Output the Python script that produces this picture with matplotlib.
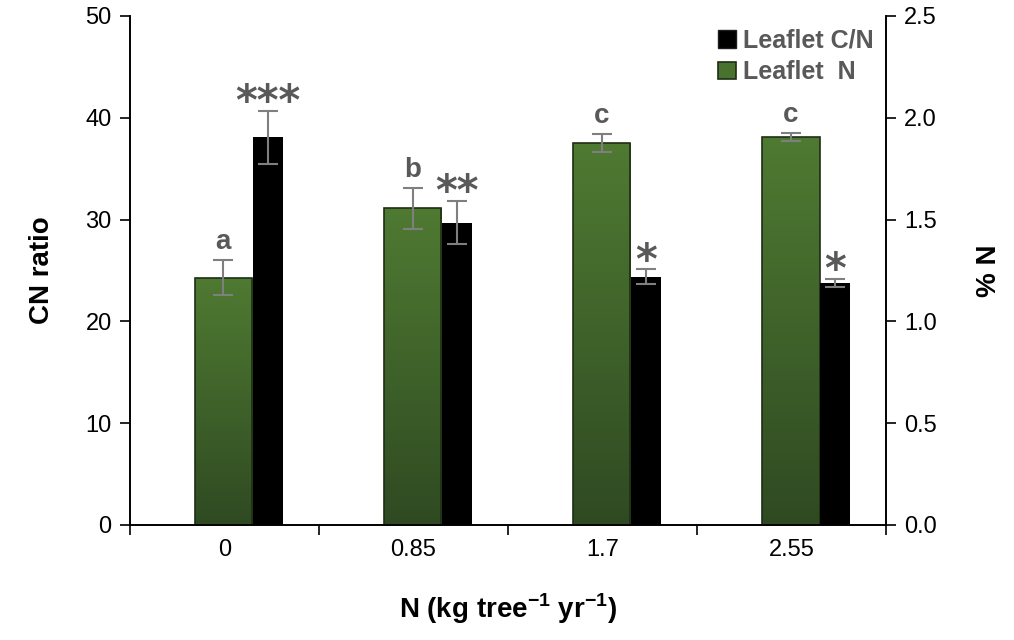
import matplotlib.pyplot as plt
import numpy as np
from matplotlib.colors import LinearSegmentedColormap

# data
doses = ['0', '0.85', '1.7', '2.55']
cn_ratio = [38.1, 29.7, 24.4, 23.8]
cn_err = [2.6, 2.1, 0.7, 0.4]
pct_n = [1.215, 1.555, 1.875, 1.905]
pct_n_err = [0.085, 0.10, 0.045, 0.018]
letters = ['a', 'b', 'c', 'c']
stars = ['***', '**', '*', '*']

plt.rcParams['font.family'] = ['Liberation Sans', 'DejaVu Sans']
plt.rcParams['mathtext.fontset'] = 'custom'
plt.rcParams['mathtext.rm'] = 'Liberation Sans:bold'
plt.rcParams['mathtext.bf'] = 'Liberation Sans:bold'
gray = '#595959'
ebar_col = '#7f7f7f'

fig = plt.figure(figsize=[10.14, 6.4], dpi=100)
ax = fig.add_axes([0.128, 0.180, 0.746, 0.795])
ax2 = ax.twinx()

x = np.arange(len(doses)) + 0.5
gw, bw = 0.305, 0.158
gx = x - 0.005
bx = x + 0.15 + bw / 2

# green bars (secondary axis, % N) with vertical gradient
grad = LinearSegmentedColormap.from_list('g', ['#2f4a22', '#4f7a32'])
bars_g = ax2.bar(gx, pct_n, gw, color='none', edgecolor='#1e2e14', lw=1.2,
                 zorder=3, label='Leaflet  N')
img = np.linspace(0, 1, 256).reshape(-1, 1)
for b in bars_g:
    im = ax2.imshow(img, cmap=grad, origin='lower', aspect='auto',
                    extent=[b.get_x(), b.get_x() + b.get_width(), 0, b.get_height()],
                    zorder=2)
    im.set_clip_path(b)
ax2.errorbar(gx, pct_n, yerr=pct_n_err, fmt='none', ecolor=ebar_col,
             elinewidth=1.5, capsize=7, capthick=1.5, zorder=4)

# black bars (primary axis, CN ratio)
ax.bar(bx, cn_ratio, bw, color='black', zorder=3, label='Leaflet C/N')
ax.errorbar(bx, cn_ratio, yerr=cn_err, fmt='none', ecolor=ebar_col,
            elinewidth=1.5, capsize=7, capthick=1.5, zorder=4)
ax.set_zorder(ax2.get_zorder() + 1)
ax.patch.set_visible(False)

for i in range(len(doses)):
    ax2.text(gx[i], pct_n[i] + pct_n_err[i] + 0.025, letters[i], ha='center',
             va='bottom', fontsize=20, fontweight='bold', color=gray)
    ax.text(bx[i], cn_ratio[i] + cn_err[i] - 1.3, stars[i], ha='center',
            va='bottom', fontsize=30, fontweight='bold', color=gray,
            family='DejaVu Sans')

ax.set_xlim(0, 4)
ax.set_ylim(0, 50)
ax2.set_ylim(0, 2.5)
ax.set_yticks(np.arange(0, 51, 10))
ax2.set_yticks(np.arange(0, 2.51, 0.5))
ax2.set_yticklabels(['%.1f' % v for v in np.arange(0, 2.51, 0.5)])
ax.set_xticks(np.arange(0, 5))
ax.set_xticklabels([])
ax.set_xticks(x, minor=True)
ax.set_xticklabels(doses, minor=True)
ax.tick_params(axis='x', which='minor', length=0, labelsize=17, pad=10)
ax.tick_params(axis='x', which='major', length=7, width=1.2)
ax.tick_params(axis='y', length=7, width=1.2, labelsize=17, pad=6)
ax2.tick_params(axis='y', length=7, width=1.2, labelsize=17, pad=6)
for a in (ax, ax2):
    for s in a.spines.values():
        s.set_linewidth(1.2)
    a.spines['top'].set_visible(False)

ax.set_ylabel('CN ratio', fontsize=20, fontweight='bold', labelpad=22)
ax2.set_ylabel('% N', fontsize=20, fontweight='bold', labelpad=28)
ax.set_xlabel(r'N (kg tree$^{\mathrm{-1}}$ yr$^{\mathrm{-1}}$)', fontsize=20,
              fontweight='bold', labelpad=22)

h1, l1 = ax.get_legend_handles_labels()
h2, l2 = ax2.get_legend_handles_labels()
leg = ax.legend(h1 + [h2[0]], l1 + l2, loc='upper right', frameon=False,
                prop={'size': 18, 'weight': 'bold'}, handlelength=0.7,
                handleheight=0.7, handletextpad=0.3, borderaxespad=0.1,
                labelspacing=0.3)
for t in leg.get_texts():
    t.set_color(gray)
leg.legend_handles[1].set_facecolor('#4a722f')
leg.legend_handles[1].set_edgecolor('#1e2e14')
leg.legend_handles[0].set_edgecolor('#1e1e1e')

fig.savefig('out.png')
